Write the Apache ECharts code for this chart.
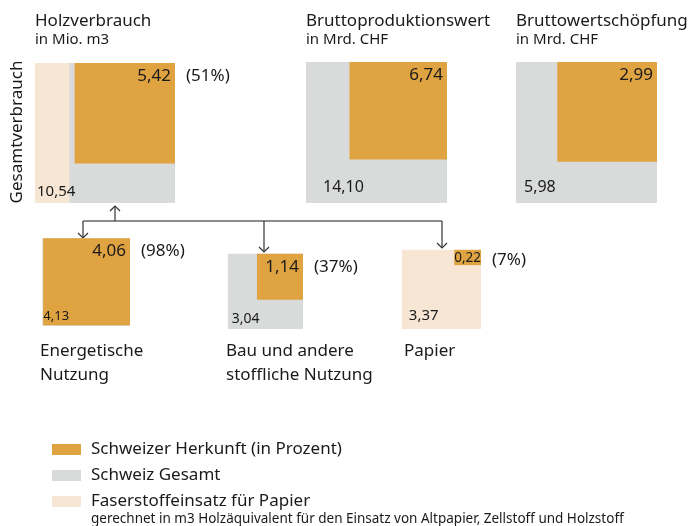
<!DOCTYPE html>
<html><head><meta charset="utf-8">
<script src="https://cdn.jsdelivr.net/npm/echarts@6/dist/echarts.min.js"></script>
<style>html,body{margin:0;padding:0;background:#fff}#c{width:694px;height:526px}</style>
</head><body><div id="c"></div>
<script>
// ---- data ----
const categories = ['Holzverbrauch', 'Bruttoproduktionswert', 'Bruttowertschöpfung', 'Energetische Nutzung', 'Bau und andere stoffliche Nutzung', 'Papier'];
const units = ['in Mio. m3', 'in Mrd. CHF', 'in Mrd. CHF'];
const categoryLabels = ['Energetische\nNutzung', 'Bau und andere\nstoffliche Nutzung', 'Papier'];
const totalValues = [10.54, 14.10, 5.98, 4.13, 3.04, 3.37];
const swissValues = [5.42, 6.74, 2.99, 4.06, 1.14, 0.22];
const swissShares = [51, null, null, 98, 37, 7];
const fiberStripValue = 2.58; // Faserstoffeinsatz-Anteil im Holzverbrauch (geschätzt)
const legendNames = ['Schweizer Herkunft (in Prozent)', 'Schweiz Gesamt', 'Faserstoffeinsatz für Papier'];
const legendNote = 'gerechnet in m3 Holzäquivalent für den Einsatz von Altpapier, Zellstoff und Holzstoff';

// ---- layout / style ----
const FONT = '"Noto Sans", sans-serif';
const C_OR = '#E0A341', C_GR = '#D9DADA', C_BE = '#F6E6D3', C_TX = '#1a1a1a';
// anchor: tl = top-left of box, br = bottom-right of box; k = px per sqrt(unit)
const layout = [
  {anchor: 'tl', x: 35, y: 63, k: 43.12, sFont: 17, tFont: 15, tdx: 2, tdy: 11.5, aspect: 1},
  {anchor: 'tl', x: 306, y: 62, k: 37.55, sFont: 17, tFont: 16, tdx: 17, tdy: 16, aspect: 1},
  {anchor: 'tl', x: 516, y: 62, k: 57.66, sFont: 17, tFont: 16, tdx: 8, tdy: 16, aspect: 1},
  {anchor: 'br', x: 130, y: 326, k: 43.12, sFont: 17, tFont: 13, tdx: 1, tdy: 10, aspect: 1},
  {anchor: 'br', x: 303, y: 329, k: 43.12, sFont: 17, tFont: 14, tdx: 4, tdy: 10, aspect: 1},
  {anchor: 'br', x: 481, y: 329, k: 43.12, sFont: 13.5, tFont: 15, tdx: 7, tdy: 13, aspect: 1.75}
];
const fmt = v => v.toFixed(2).replace('.', ',');

function boxGeom(i) {
  const L = layout[i];
  const s = Math.sqrt(totalValues[i]) * L.k;
  const left = L.anchor === 'tl' ? L.x : L.x - s;
  const top = L.anchor === 'tl' ? L.y : L.y - s;
  return {left, top, s};
}
function swissGeom(i) {
  const L = layout[i], b = boxGeom(i);
  const v = swissValues[i];
  const w = Math.sqrt(v * L.aspect) * L.k, h = Math.sqrt(v / L.aspect) * L.k;
  return {left: b.left + b.s - w, top: b.top, w, h};
}
function rectEl(api, left, top, w, h, color) {
  const p = api.coord([left, top]);
  const sz = api.size([w, h]);
  return {type: 'rect', shape: {x: p[0], y: p[1], width: sz[0], height: sz[1]}, style: {fill: color}};
}

const chart = echarts.init(document.getElementById('c'), null, {renderer: 'canvas'});

const graphics = [];
for (let i = 0; i < 3; i++) {
  const L = layout[i];
  graphics.push({type: 'text', x: L.x, y: 21, style: {text: categories[i], font: '17px ' + FONT, fill: C_TX, align: 'left', verticalAlign: 'middle'}});
  graphics.push({type: 'text', x: L.x, y: 40, style: {text: units[i], font: '15px ' + FONT, fill: C_TX, align: 'left', verticalAlign: 'middle'}});
}
graphics.push({type: 'text', x: 17, y: 132, rotation: Math.PI / 2, style: {text: 'Gesamtverbrauch', font: '17px ' + FONT, fill: C_TX, align: 'center', verticalAlign: 'middle'}});
const catX = [40, 226, 404];
for (let j = 0; j < 3; j++) {
  graphics.push({type: 'text', x: catX[j], y: 339, style: {text: categoryLabels[j], font: '17px ' + FONT, fill: C_TX, align: 'left', verticalAlign: 'top', lineHeight: 24}});
}
const lineStyle = {stroke: '#333', lineWidth: 1.2, fill: null};
graphics.push({type: 'polyline', shape: {points: [[83, 221], [442, 221]]}, style: {stroke: '#666', lineWidth: 1.4, fill: null}});
graphics.push({type: 'polyline', shape: {points: [[115, 221], [115, 206]]}, style: lineStyle});
graphics.push({type: 'polyline', shape: {points: [[110, 211], [115, 206], [120, 211]]}, style: lineStyle});
[[83, 238], [264, 252], [442, 248]].forEach(([x, y]) => {
  graphics.push({type: 'polyline', shape: {points: [[x, 221], [x, y]]}, style: lineStyle});
  graphics.push({type: 'polyline', shape: {points: [[x - 5, y - 5], [x, y], [x + 5, y - 5]]}, style: lineStyle});
});
graphics.push({type: 'text', x: 91, y: 519, style: {text: legendNote, font: '13.5px ' + FONT, fill: C_TX, align: 'left', verticalAlign: 'middle'}});

const option = {
  animation: false,
  backgroundColor: '#fff',
  grid: {left: 0, right: 0, top: 0, bottom: 0},
  xAxis: {type: 'value', min: 0, max: 694, show: false},
  yAxis: {type: 'value', min: 0, max: 526, inverse: true, show: false},
  legend: {
    data: legendNames, orient: 'vertical', left: 52, top: 441, padding: 0,
    itemWidth: 29, itemHeight: 11, itemGap: 9, icon: 'rect', selectedMode: false,
    textStyle: {fontFamily: FONT, fontSize: 17, color: C_TX, lineHeight: 16, padding: [0, 0, 0, 5]}
  },
  graphic: graphics,
  series: [
    {
      name: 'Schweiz Gesamt', type: 'custom', itemStyle: {color: C_GR}, z: 2, clip: false,
      data: totalValues.slice(0, 5).map((v, i) => [i, v]),
      renderItem: (params, api) => {
        const i = api.value(0), b = boxGeom(i);
        return rectEl(api, b.left, b.top, b.s, b.s, C_GR);
      }
    },
    {
      name: 'Faserstoffeinsatz für Papier', type: 'custom', itemStyle: {color: C_BE}, z: 3, clip: false,
      data: [[5, totalValues[5], 0], [0, fiberStripValue, 1]],
      renderItem: (params, api) => {
        const i = api.value(0), v = api.value(1), kind = api.value(2), b = boxGeom(i);
        if (kind === 0) return rectEl(api, b.left, b.top, b.s, b.s, C_BE);
        const k = layout[i].k;
        const w = v * k * k / b.s;
        return rectEl(api, b.left, b.top, w, b.s, C_BE);
      }
    },
    {
      name: 'Schweizer Herkunft (in Prozent)', type: 'custom', itemStyle: {color: C_OR}, z: 4, clip: false,
      data: swissValues.map((v, i) => [i, v]),
      renderItem: (params, api) => {
        const i = api.value(0), g = swissGeom(i);
        return rectEl(api, g.left, g.top, g.w, g.h, C_OR);
      }
    },
    {
      name: 'labels', type: 'custom', z: 10, clip: false,
      data: totalValues.map((v, i) => [i, v]),
      renderItem: (params, api) => {
        const i = api.value(0), L = layout[i], b = boxGeom(i), g = swissGeom(i);
        const small = L.aspect !== 1;
        const sy = small ? g.top + g.h / 2 + 1 : g.top + 13;
        const sxR = small ? g.left + g.w : g.left + g.w - 4;
        const pS = api.coord([sxR, sy]);
        const children = [
          {type: 'text', x: pS[0], y: pS[1], style: {text: fmt(swissValues[i]), font: L.sFont + 'px ' + FONT, fill: C_TX, align: 'right', verticalAlign: 'middle'}}
        ];
        if (swissShares[i] != null) {
          const pP = api.coord([g.left + g.w + 11, small ? sy + 2 : sy]);
          children.push({type: 'text', x: pP[0], y: pP[1], style: {text: '(' + swissShares[i] + '%)', font: '17px ' + FONT, fill: C_TX, align: 'left', verticalAlign: 'middle'}});
        }
        const pT = api.coord([b.left + L.tdx, b.top + b.s - L.tdy]);
        children.push({type: 'text', x: pT[0], y: pT[1], style: {text: fmt(totalValues[i]), font: L.tFont + 'px ' + FONT, fill: C_TX, align: 'left', verticalAlign: 'middle'}});
        return {type: 'group', children};
      }
    }
  ]
};
chart.setOption(option);
</script>
</body></html>
